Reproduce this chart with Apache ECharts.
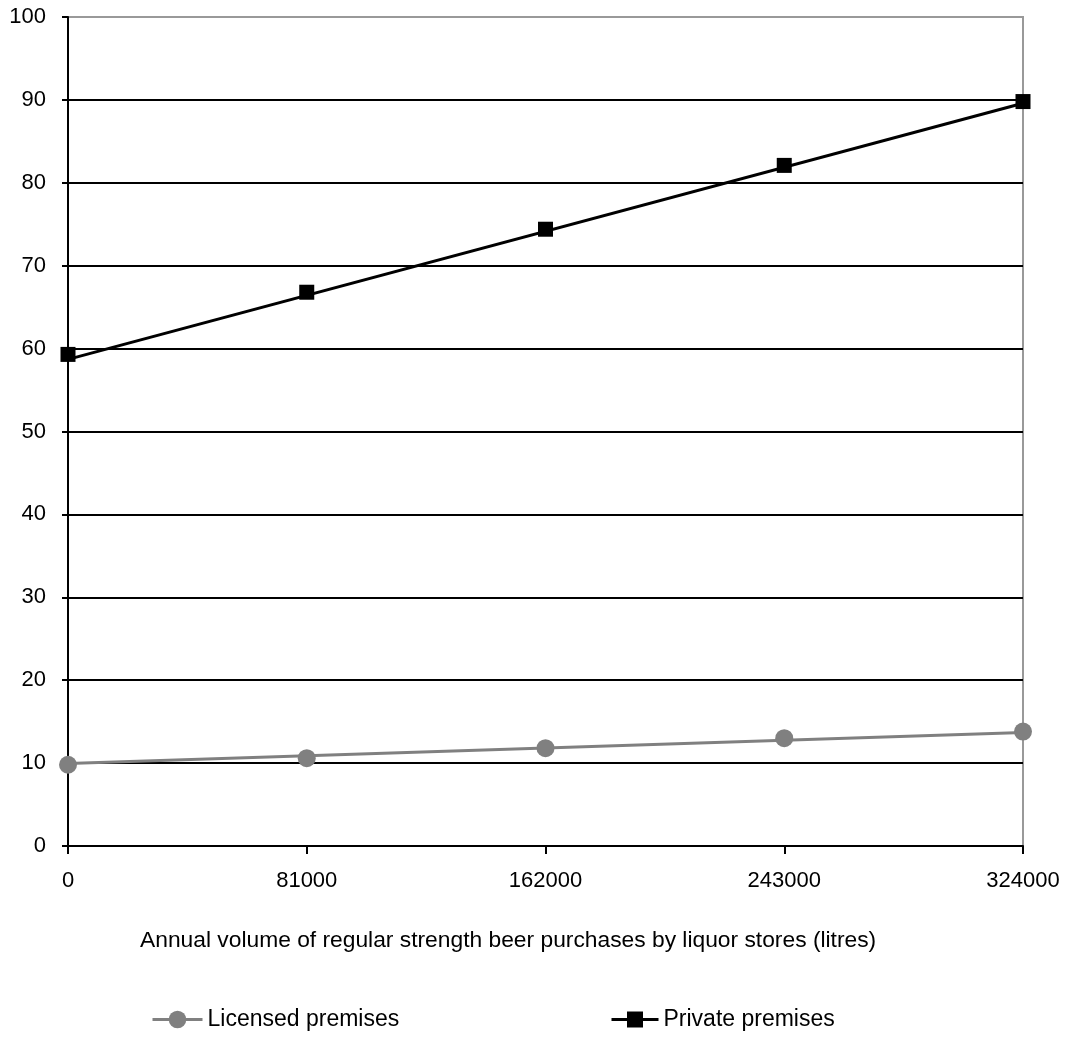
<!DOCTYPE html>
<html>
<head>
<meta charset="utf-8">
<script src="https://cdn.jsdelivr.net/npm/echarts@6/dist/echarts.min.js"></script>
<style>html,body{margin:0;padding:0;background:#fff}#c{width:1068px;height:1038px}</style>
</head>
<body>
<div id="c"></div>
<script>
const xValues = [0, 81000, 162000, 243000, 324000];
const licensedValues = [9.8, 10.6, 11.8, 13.0, 13.8];
const privateValues = [59.3, 66.8, 74.4, 82.1, 89.8];
const licensedTrend = [[0, 9.95], [324000, 13.7]];
const privateTrend = [[0, 58.7], [324000, 89.6]];
const xTicks = [0, 81000, 162000, 243000, 324000];
const yTicks = [0, 10, 20, 30, 40, 50, 60, 70, 80, 90, 100];

const FONT = 'Liberation Sans, Arial, sans-serif';
const chart = echarts.init(document.getElementById('c'), null, {renderer: 'canvas'});
const pair = (vals) => xValues.map((x, i) => [x, vals[i]]);

chart.setOption({
  animation: false,
  backgroundColor: '#fff',
  grid: {left: 68, right: 45, top: 17, bottom: 192, show: true, borderColor: '#999', borderWidth: 2, backgroundColor: 'transparent'},
  xAxis: {
    type: 'value', min: 0, max: 324000, interval: 81000,
    axisLine: {show: true, onZero: false, lineStyle: {color: '#000', width: 2}},
    axisTick: {show: true, length: 8, lineStyle: {color: '#000', width: 2}},
    axisLabel: {color: '#000', fontSize: 22, fontFamily: FONT, margin: 24, formatter: (v) => String(v)},
    splitLine: {show: false}
  },
  yAxis: {
    type: 'value', min: 0, max: 100, interval: 10,
    axisLine: {show: true, lineStyle: {color: '#000', width: 2}},
    axisTick: {show: true, length: 6, lineStyle: {color: '#000', width: 2}},
    axisLabel: {color: '#000', fontSize: 22, fontFamily: FONT, margin: 22},
    splitLine: {show: true, showMaxLine: false, lineStyle: {color: '#000', width: 2}}
  },
  graphic: [{
    type: 'text', left: 140, top: 929,
    style: {text: 'Annual volume of regular strength beer purchases by liquor stores (litres)', fill: '#000', font: '22.8px ' + FONT}
  }],
  legend: [{
    left: 151, top: 1008, padding: 0, itemWidth: 50, itemHeight: 22, itemGap: 7,
    lineStyle: {width: 3},
    textStyle: {color: '#000', fontSize: 23, fontFamily: FONT},
    data: ['Licensed premises']
  }, {
    left: 610, top: 1008, padding: 0, itemWidth: 47, itemHeight: 20, itemGap: 7,
    lineStyle: {width: 3},
    textStyle: {color: '#000', fontSize: 23, fontFamily: FONT},
    data: ['Private premises']
  }],
  series: [
    {name: 'Licensed premises', type: 'line', data: licensedTrend, symbol: 'circle', symbolSize: 18, showSymbol: false,
      itemStyle: {color: '#808080'}, lineStyle: {color: '#808080', width: 3}, z: 3, silent: true},
    {name: 'Private premises', type: 'line', data: privateTrend, symbol: 'rect', symbolSize: 15, showSymbol: false,
      itemStyle: {color: '#000'}, lineStyle: {color: '#000', width: 3}, z: 3, silent: true},
    {name: 'Licensed premises', type: 'line', data: pair(licensedValues), symbol: 'circle', symbolSize: 18,
      itemStyle: {color: '#808080'}, lineStyle: {width: 0, opacity: 0}, z: 4},
    {name: 'Private premises', type: 'line', data: pair(privateValues), symbol: 'rect', symbolSize: 15,
      itemStyle: {color: '#000'}, lineStyle: {width: 0, opacity: 0}, z: 4}
  ]
});
</script>
</body>
</html>
